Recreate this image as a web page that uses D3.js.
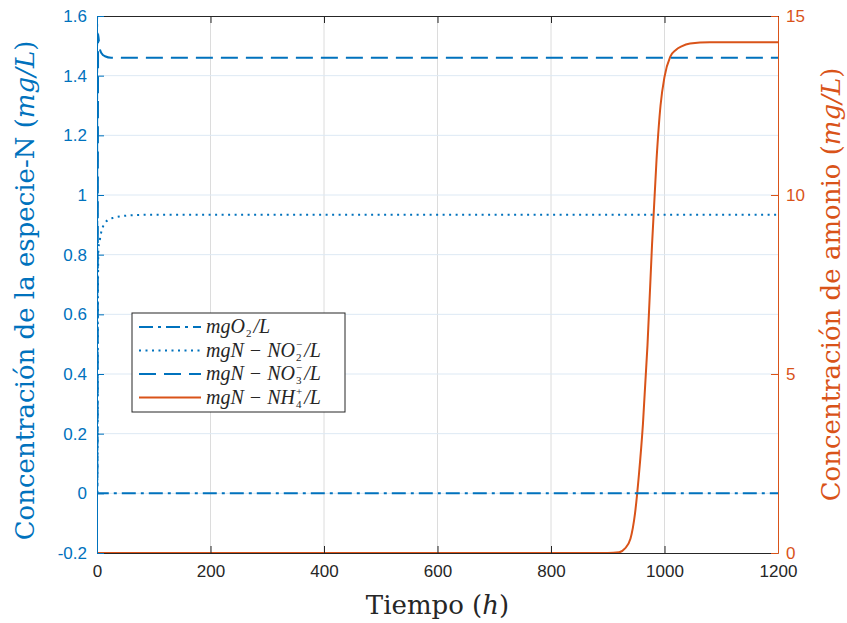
<!DOCTYPE html>
<html>
<head>
<meta charset="utf-8">
<script src="https://d3js.org/d3.v7.min.js"></script>
<style>
  body { margin: 0; background: #fff; }
</style>
</head>
<body>
<svg id="chart" width="847" height="623"></svg>
<script>
// hours
const xTicks = [0, 200, 400, 600, 800, 1000, 1200];
const yLeftTicks = [-0.2, 0, 0.2, 0.4, 0.6, 0.8, 1, 1.2, 1.4, 1.6];
const yRightTicks = [0, 5, 10, 15];

// left axis series (mg/L)
const o2T   = [0, 0.8, 1200];
const o2V   = [2.0, 0, 0];
const no2T  = [0, 1, 1.5, 2.5, 5, 8, 12, 19, 30, 40, 60, 100, 1200];
const no2V  = [0, 0.2, 0.6, 0.82, 0.85, 0.88, 0.9, 0.916, 0.924, 0.928, 0.932, 0.934, 0.934];
const no3T  = [0, 1, 1.5, 2, 4, 8, 14, 25, 1200];
const no3V  = [0, 0.3, 1.0, 1.54, 1.5, 1.475, 1.465, 1.46, 1.46];
// right axis series
const nh4T  = [0, 900, 920, 930, 940, 948, 955, 962, 970, 978, 986, 993, 1000, 1010, 1020, 1030, 1045, 1080, 1200];
const nh4V  = [0, 0, 0.02, 0.12, 0.4, 1.1, 2.2, 3.6, 5.8, 8.6, 11.0, 12.5, 13.3, 13.86, 14.05, 14.15, 14.23, 14.27, 14.27];

const blue = "#0072BD", orange = "#D95319";
const sans = "'Liberation Sans', Arial, sans-serif";
const serif = "'DejaVu Serif', serif";
const svg = d3.select("#chart");
const m = {left: 97, right: 778, top: 16, bottom: 553};

const x = d3.scaleLinear().domain([0, 1200]).range([m.left, m.right]);
const yL = d3.scaleLinear().domain([-0.2, 1.6]).range([m.bottom, m.top]);
const yR = d3.scaleLinear().domain([0, 15]).range([m.bottom, m.top]);

svg.append("defs").append("clipPath").attr("id", "clip")
  .append("rect").attr("x", m.left).attr("y", m.top)
  .attr("width", m.right - m.left).attr("height", m.bottom - m.top);

// grid
const grid = svg.append("g");
grid.selectAll(".gx").data(xTicks.slice(1, -1)).join("line")
  .attr("x1", d => x(d)).attr("x2", d => x(d))
  .attr("y1", m.top).attr("y2", m.bottom)
  .attr("stroke", "#dcdcdc").attr("stroke-width", 1);
grid.selectAll(".gy").data(yLeftTicks.slice(1, -1)).join("line")
  .attr("x1", m.left).attr("x2", m.right)
  .attr("y1", d => yL(d)).attr("y2", d => yL(d))
  .attr("stroke", "#dde9f4").attr("stroke-width", 1);

const zip = (t, v) => t.map((d, i) => [d, v[i]]);
const lineL = d3.line().x(d => x(d[0])).y(d => yL(d[1])).curve(d3.curveMonotoneX);
const lineR = d3.line().x(d => x(d[0])).y(d => yR(d[1])).curve(d3.curveMonotoneX);

const plot = svg.append("g").attr("clip-path", "url(#clip)");
plot.append("path").datum(zip(nh4T, nh4V)).attr("d", lineR)
  .attr("fill", "none").attr("stroke", orange).attr("stroke-width", 2);
plot.append("path").datum(zip(o2T, o2V)).attr("d", d3.line().x(d => x(d[0])).y(d => yL(d[1])))
  .attr("fill", "none").attr("stroke", blue).attr("stroke-width", 2)
  .attr("stroke-dasharray", "14,5,3,5");
plot.append("path").datum(zip(no2T, no2V)).attr("d", lineL)
  .attr("fill", "none").attr("stroke", blue).attr("stroke-width", 2)
  .attr("stroke-dasharray", "2,4.5");
plot.append("path").datum(zip(no3T, no3V)).attr("d", lineL)
  .attr("fill", "none").attr("stroke", blue).attr("stroke-width", 2)
  .attr("stroke-dasharray", "17,8");

// axes
const tick = 7;
const styleAxis = (g, color) => {
  g.select(".domain").attr("stroke", color);
  g.selectAll(".tick line").attr("stroke", color);
  g.selectAll(".tick text").attr("fill", color).attr("font-size", 17)
    .attr("font-family", sans);
};
const ax = svg.append("g").attr("transform", `translate(0,${m.bottom})`)
  .call(d3.axisBottom(x).tickValues(xTicks).tickSizeInner(-tick).tickSizeOuter(0).tickPadding(14)
    .tickFormat(d3.format("d")));
styleAxis(ax, "#262626");
const axTop = svg.append("g").attr("transform", `translate(0,${m.top})`)
  .call(d3.axisTop(x).tickValues(xTicks).tickSizeInner(-tick).tickSizeOuter(0).tickFormat(""));
styleAxis(axTop, "#262626");
const ayL = svg.append("g").attr("transform", `translate(${m.left},0)`)
  .call(d3.axisLeft(yL).tickValues(yLeftTicks).tickSizeInner(-tick).tickSizeOuter(0).tickPadding(10)
    .tickFormat(d => String(+d.toFixed(1))));
styleAxis(ayL, blue);
const ayR = svg.append("g").attr("transform", `translate(${m.right},0)`)
  .call(d3.axisRight(yR).tickValues(yRightTicks).tickSizeInner(-tick).tickSizeOuter(0).tickPadding(8));
styleAxis(ayR, orange);
ax.selectAll(".tick text").attr("dy", "0.6em");

// axis labels
const xl = svg.append("text").attr("x", (m.left + m.right) / 2).attr("y", 614)
  .attr("text-anchor", "middle").attr("font-size", 26).attr("fill", "#262626")
  .attr("font-family", serif);
xl.append("tspan").text("Tiempo (");
xl.append("tspan").attr("font-style", "italic").text("h");
xl.append("tspan").text(")");

const yl = svg.append("text").attr("transform", `translate(34,${(m.top + m.bottom) / 2 + 6}) rotate(-90)`)
  .attr("text-anchor", "middle").attr("font-size", 26).attr("fill", blue)
  .attr("font-family", serif);
yl.append("tspan").text("Concentración de la especie-N (");
yl.append("tspan").attr("font-style", "italic").text("mg/L");
yl.append("tspan").text(")");

const yr = svg.append("text").attr("transform", `translate(840,${(m.top + m.bottom) / 2}) rotate(-90)`)
  .attr("text-anchor", "middle").attr("font-size", 26).attr("fill", orange)
  .attr("font-family", serif);
yr.append("tspan").text("Concentración de amonio (");
yr.append("tspan").attr("font-style", "italic").text("mg/L");
yr.append("tspan").text(")");

// legend
const legend = svg.append("g").attr("transform", "translate(132,313)");
legend.append("rect").attr("width", 213).attr("height", 99)
  .attr("fill", "#fff").attr("stroke", "#262626").attr("stroke-width", 1);
const entries = [
  {color: blue, dash: "14,5,3,5", base: "mgO", sub: "2", sup: null},
  {color: blue, dash: "2,4.5", base: "mgN \u2212 NO", sub: "2", sup: "\u2212"},
  {color: blue, dash: "17,8", base: "mgN \u2212 NO", sub: "3", sup: "\u2212"},
  {color: orange, dash: null, base: "mgN \u2212 NH", sub: "4", sup: "+"}
];
const lfont = "'Liberation Serif', serif";
entries.forEach((e, i) => {
  const cy = 14 + i * 23.5;
  legend.append("line").attr("x1", 7).attr("x2", 69).attr("y1", cy).attr("y2", cy)
    .attr("stroke", e.color).attr("stroke-width", 2)
    .attr("stroke-dasharray", e.dash);
  let cx = 74;
  const put = (txt, size, dy, italic) => {
    const t = legend.append("text").attr("x", cx).attr("y", cy + 6 + dy)
      .attr("font-size", size).attr("fill", "#262626").attr("font-family", lfont)
      .attr("font-style", italic ? "italic" : "normal").text(txt);
    return t.node().getComputedTextLength();
  };
  cx += put(e.base, 20, 0, true) + 1;
  const wSub = put(e.sub, 11, 4, false);
  let wSup = 0;
  if (e.sup) wSup = put(e.sup, 11, -9, false);
  cx += Math.max(wSub, wSup) + 2;
  put("/L", 20, 0, true);
});
</script>
</body>
</html>
